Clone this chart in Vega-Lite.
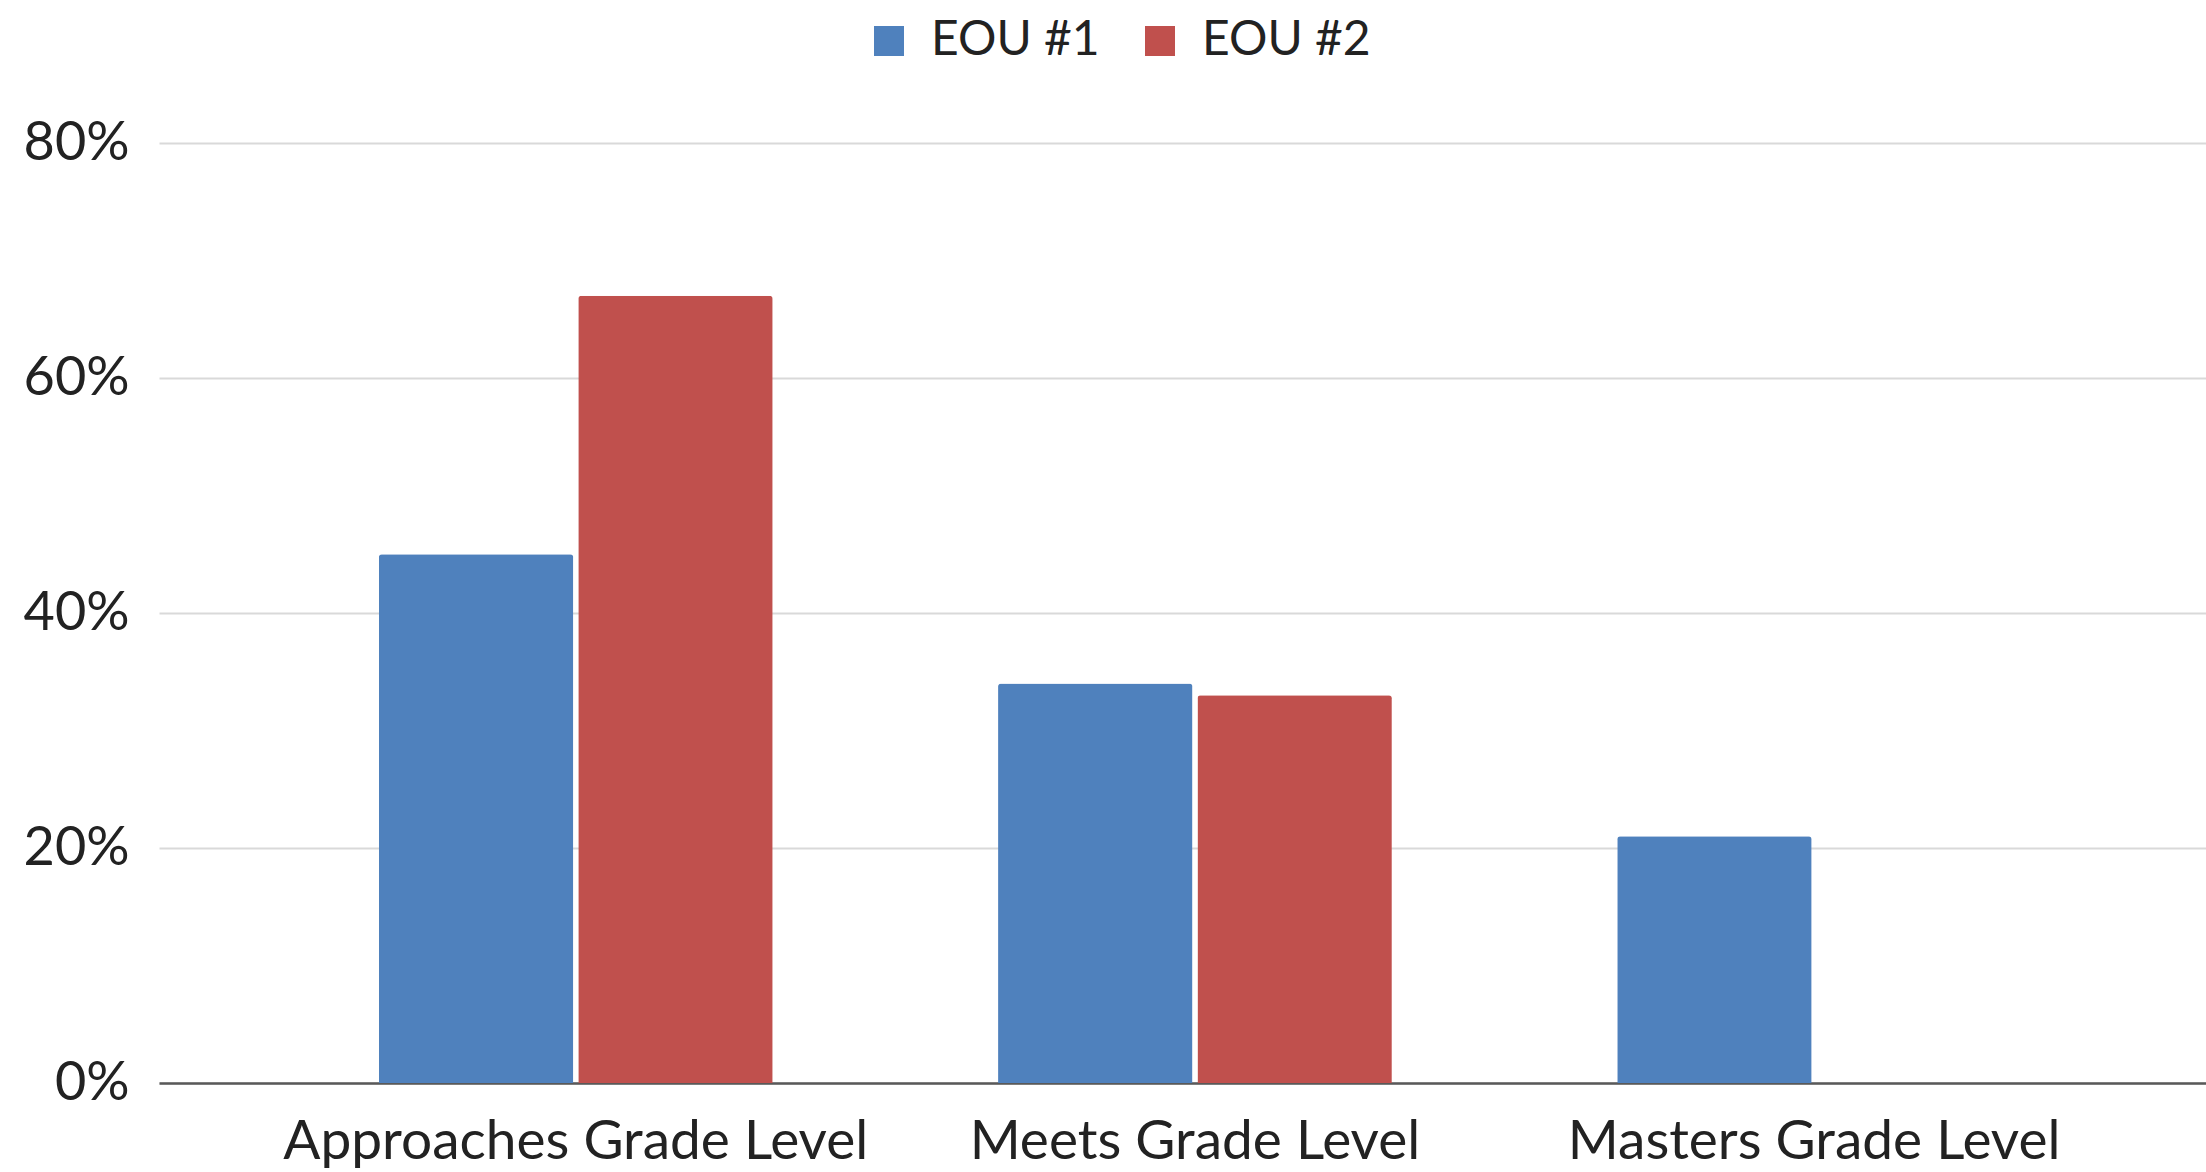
{
  "$schema": "https://vega.github.io/schema/vega-lite/v6.json",
  "autosize": "none",
  "width": 2047,
  "height": 940,
  "padding": {"left": 159, "top": 143, "right": 0, "bottom": 89},
  "background": "white",
  "config": {"view": {"stroke": null}, "font": "Lato"},
  "data": {
    "values": [
      {"level": "Approaches Grade Level", "series": "EOU #1", "value": 0.45},
      {"level": "Approaches Grade Level", "series": "EOU #2", "value": 0.67},
      {"level": "Meets Grade Level", "series": "EOU #1", "value": 0.34},
      {"level": "Meets Grade Level", "series": "EOU #2", "value": 0.33},
      {"level": "Masters Grade Level", "series": "EOU #1", "value": 0.21},
      {"level": "Masters Grade Level", "series": "EOU #2", "value": 0}
    ]
  },
  "mark": {"type": "bar", "cornerRadiusTopLeft": 3, "cornerRadiusTopRight": 3},
  "encoding": {
    "x": {
      "field": "level",
      "type": "nominal",
      "sort": ["Approaches Grade Level", "Meets Grade Level", "Masters Grade Level"],
      "scale": {"paddingInner": 0.364, "paddingOuter": 0.335, "align": 0.53},
      "axis": {
        "title": null,
        "labelAngle": 0,
        "labelFont": "Lato",
        "labelFontSize": 55,
        "labelColor": "#222222",
        "labelPadding": 32,
        "labelLimit": 0,
        "ticks": false,
        "domainColor": "#595959",
        "domainWidth": 2.5,
        "grid": false
      }
    },
    "xOffset": {
      "field": "series",
      "type": "nominal",
      "scale": {"paddingInner": 0.025}
    },
    "y": {
      "field": "value",
      "type": "quantitative",
      "scale": {"domain": [0, 0.8], "nice": false},
      "axis": {
        "title": null,
        "values": [0, 0.2, 0.4, 0.6, 0.8],
        "format": ".0%",
        "labelFont": "Lato",
        "labelFontSize": 54,
        "labelColor": "#222222",
        "labelPadding": 30,
        "ticks": false,
        "domain": false,
        "gridColor": "#d9d9d9",
        "gridWidth": 2
      }
    },
    "color": {
      "field": "series",
      "type": "nominal",
      "scale": {"domain": ["EOU #1", "EOU #2"], "range": ["#4F81BD", "#C0504D"]},
      "legend": {
        "title": null,
        "orient": "none",
        "direction": "horizontal",
        "legendX": 706,
        "legendY": -126,
        "symbolType": "square",
        "symbolSize": 900,
        "symbolStrokeWidth": 0,
        "labelFont": "Lato",
        "labelFontSize": 48,
        "labelColor": "#222222",
        "labelOffset": 18,
        "labelLimit": 0,
        "columnPadding": 36
      }
    }
  }
}
